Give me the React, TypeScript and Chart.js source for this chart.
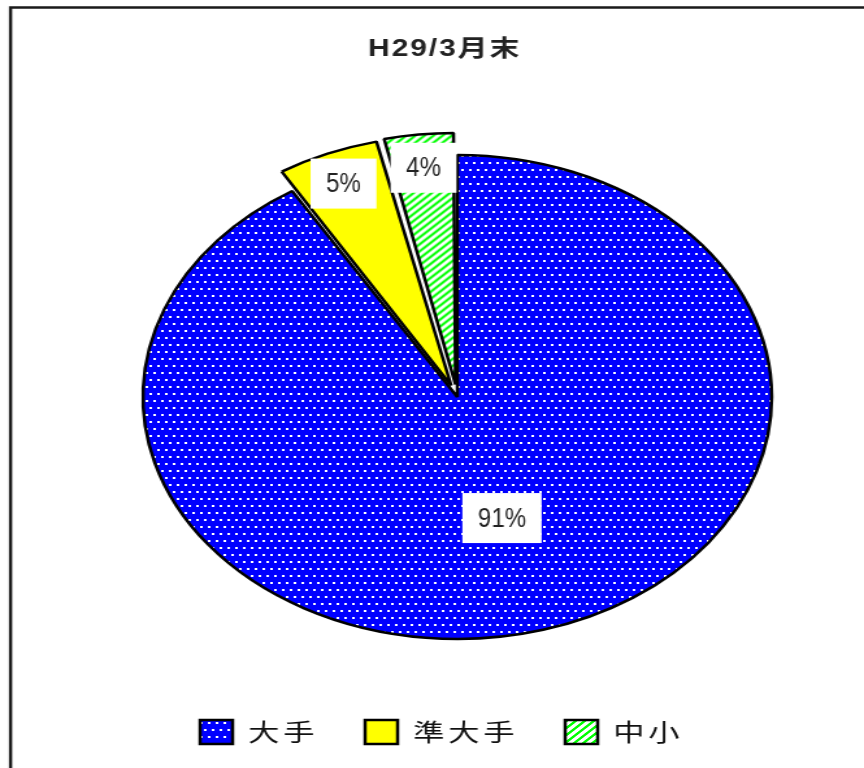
import React, { useEffect, useRef } from 'react';
import { Chart, registerables } from 'chart.js';

Chart.register(...registerables);

// ---- data ----
const TITLE = 'H29/3月末';
const CATEGORIES = ['大手', '準大手', '中小'];
const SHARES = [91.2, 5.2, 3.6];

// ---- layout constants ----
const W = 665; // internal canvas width, stretched horizontally to 864
const H = 768;
const STRETCH = 864 / W;
const PIE_DX = 12;
const TEXT_SX = 0.66;
const EXPLODE = 50;
const SHIFT_FACTOR = 0.5;

function makeDotPattern(ctx: CanvasRenderingContext2D) {
  const c = document.createElement('canvas');
  c.width = 6;
  c.height = 14;
  const g = c.getContext('2d')!;
  g.fillStyle = '#0000FF';
  g.fillRect(0, 0, 6, 14);
  g.fillStyle = '#FFFFFF';
  g.fillRect(1, 1, 2, 2);
  g.fillRect(4, 8, 2, 2);
  return ctx.createPattern(c, 'repeat')!;
}

function makeStripePattern(ctx: CanvasRenderingContext2D) {
  const n = 7;
  const c = document.createElement('canvas');
  c.width = n;
  c.height = n;
  const g = c.getContext('2d')!;
  g.fillStyle = '#FFFFFF';
  g.fillRect(0, 0, n, n);
  g.fillStyle = '#00FF00';
  for (let y = 0; y < n; y++) {
    for (let x = 0; x < n; x++) {
      if ((x + y) % n < 3) g.fillRect(x, y, 1, 1);
    }
  }
  return ctx.createPattern(c, 'repeat')!;
}

const framePlugin = {
  id: 'frame',
  beforeLayout(chart: any) {
    (chart.ctx as any).letterSpacing = '3px';
  },
  beforeDraw(chart: any) {
    const ctx = chart.ctx;
    ctx.save();
    ctx.fillStyle = '#FFFFFF';
    ctx.fillRect(0, 0, chart.width, chart.height);
    ctx.strokeStyle = '#1a1a1a';
    ctx.lineWidth = 2.5;
    ctx.strokeRect(8.1, 7.5, 800, 900);
    ctx.restore();
    (ctx as any).letterSpacing = '3px';
  },
  afterDraw(chart: any) {
    const ctx = chart.ctx;
    ctx.save();
    const ls = 1.5;
    (ctx as any).letterSpacing = ls + 'px';
    ctx.font = 'bold 23px "Liberation Sans", "Noto Sans CJK JP", sans-serif';
    ctx.fillStyle = '#222222';
    ctx.textAlign = 'center';
    ctx.textBaseline = 'middle';
    ctx.fillText(TITLE, 341.5 + ls / 2, 50);
    ctx.restore();
  },
};

const piePlugin = {
  id: 'pieShiftAndLabels',
  beforeDatasetsDraw(chart: any) {
    chart.ctx.save();
    chart.ctx.translate(PIE_DX, 0);
  },
  afterDatasetsDraw(chart: any) {
    const ctx = chart.ctx;
    const ds = chart.data.datasets[0];
    const data = ds.data as number[];
    const offsets = ds.offset as number[];
    const total = data.reduce((a, b) => a + b, 0);
    const meta = chart.getDatasetMeta(0);
    meta.data.forEach((arc: any, i: number) => {
      const p = arc.getProps(['x', 'y', 'startAngle', 'endAngle', 'outerRadius'], true);
      const share = data[i] / total;
      const mid = (p.startAngle + p.endAngle) / 2;
      const r = share > 0.5 ? p.outerRadius * 0.52 : p.outerRadius * 0.85 + offsets[i] * SHIFT_FACTOR;
      const cx = p.x + Math.cos(mid) * r;
      const cy = p.y + Math.sin(mid) * r;
      const text = Math.round(share * 100) + '%';
      ctx.save();
      (ctx as any).letterSpacing = '0px';
      ctx.font = '28px "Liberation Sans", Arial, sans-serif';
      const tw = ctx.measureText(text).width * TEXT_SX;
      const bw = tw + 24;
      const bh = 50;
      ctx.fillStyle = '#FFFFFF';
      ctx.fillRect(cx - bw / 2, cy - bh / 2, bw, bh);
      ctx.translate(cx, cy);
      ctx.scale(TEXT_SX, 1);
      ctx.fillStyle = '#222222';
      ctx.textAlign = 'center';
      ctx.textBaseline = 'middle';
      ctx.fillText(text, 0, 1);
      ctx.restore();
    });
    ctx.restore();
  },
};

export default function App() {
  const ref = useRef<HTMLCanvasElement | null>(null);

  useEffect(() => {
    const canvas = ref.current;
    if (!canvas) return;
    const ctx = canvas.getContext('2d')!;
    const blue = makeDotPattern(ctx);
    const green = makeStripePattern(ctx);

    const chart = new Chart(canvas, {
      type: 'pie',
      data: {
        labels: CATEGORIES,
        datasets: [
          {
            data: SHARES,
            backgroundColor: [blue, '#FFFF00', green] as any,
            borderColor: '#000000',
            borderWidth: 2.5,
            offset: [0, EXPLODE, EXPLODE],
            radius: 242,
          } as any,
        ],
      },
      options: {
        responsive: false,
        devicePixelRatio: 1,
        animation: false,
        events: [],
        layout: { padding: { top: 110, bottom: 14, left: 15, right: 0 } },
        plugins: {
          tooltip: { enabled: false },
          title: { display: false },
          legend: {
            display: true,
            position: 'bottom',
            labels: {
              boxWidth: 25,
              boxHeight: 24,
              padding: 36,
              color: '#111111',
              font: { family: '"Noto Sans CJK JP", sans-serif', size: 24 },
            },
          },
        },
      },
      plugins: [framePlugin, piePlugin],
    });
    return () => chart.destroy();
  }, []);

  return (
    <div style={{ position: 'fixed', left: 0, top: 0, width: 864, height: 768, overflow: 'hidden', background: '#fff' }}>
      <div style={{ width: W, height: H, transform: `scaleX(${STRETCH})`, transformOrigin: '0 0' }}>
        <canvas ref={ref} width={W} height={H} style={{ display: 'block', width: W, height: H }} />
      </div>
    </div>
  );
}
